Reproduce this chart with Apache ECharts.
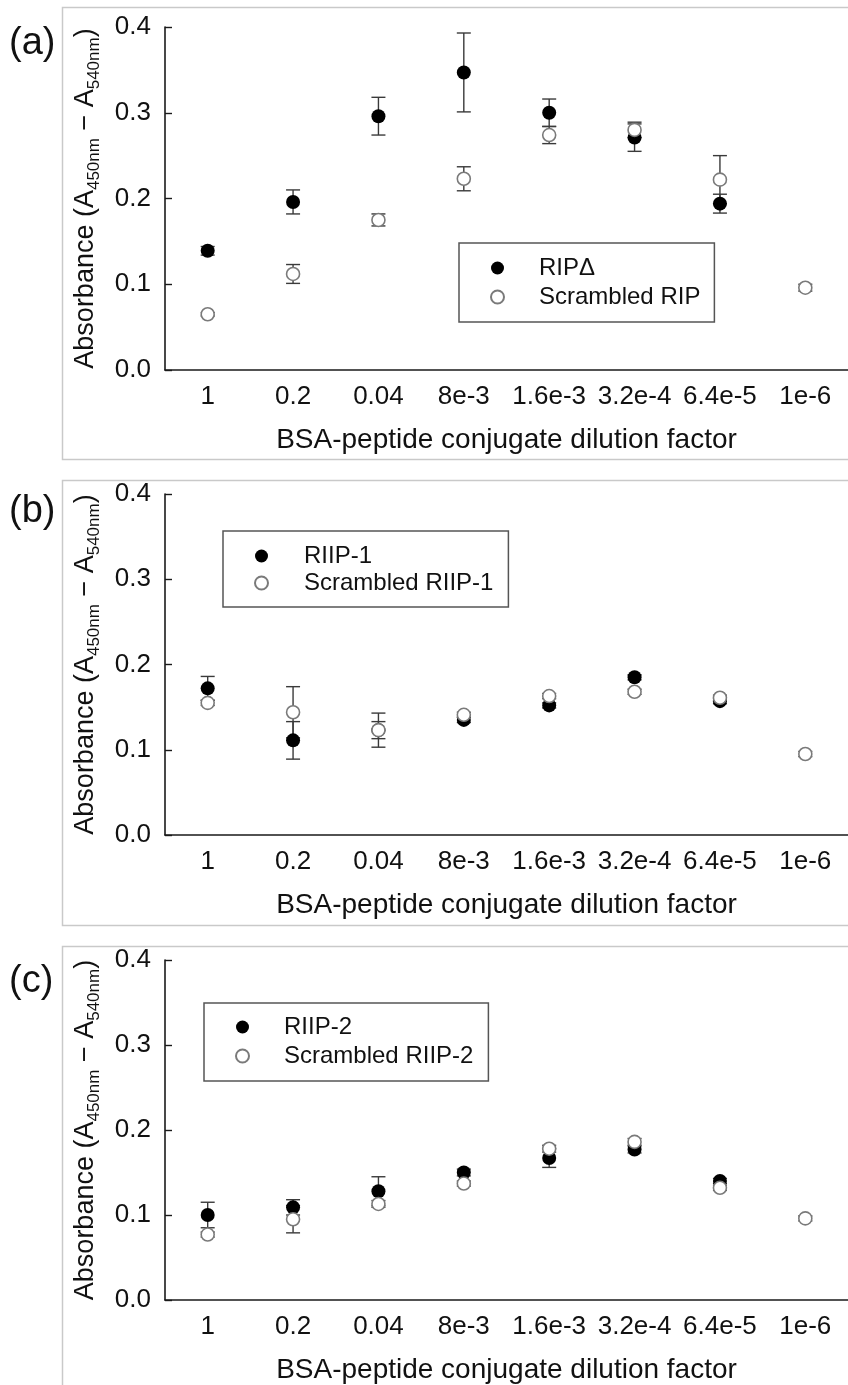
<!DOCTYPE html>
<html>
<head>
<meta charset="utf-8">
<script src="https://cdn.jsdelivr.net/npm/echarts@6/dist/echarts.min.js"></script>
<style>
  html, body { margin: 0; padding: 0; background: #ffffff; }
  #chart { width: 848px; height: 1385px; }
</style>
</head>
<body>
<div id="chart"></div>
<script>
// Dilution series of the BSA-peptide conjugate (category axis)
const dilutionLabels = ['1', '0.2', '0.04', '8e-3', '1.6e-3', '3.2e-4', '6.4e-5', '1e-6'];
const yTickValues = [0.0, 0.1, 0.2, 0.3, 0.4];

// (a) RIPΔ vs scrambled RIP — mean absorbance and error
const ripDelta      = [0.139, 0.196, 0.296, 0.347, 0.300, 0.271, 0.194, null];
const ripDeltaErr   = [0.005, 0.014, 0.022, 0.046, 0.016, 0.016, 0.011, null];
const scrRip        = [0.065, 0.112, 0.175, 0.223, 0.274, 0.280, 0.222, 0.096];
const scrRipErr     = [0.002, 0.011, 0.007, 0.014, 0.010, 0.009, 0.028, 0.004];

// (b) RIIP-1 vs scrambled RIIP-1
const riip1         = [0.172, 0.111, 0.123, 0.135, 0.152, 0.185, 0.157, null];
const riip1Err      = [0.014, 0.022, 0.010, 0.003, 0.003, 0.003, 0.003, null];
const scrRiip1      = [0.155, 0.144, 0.123, 0.141, 0.163, 0.168, 0.161, 0.095];
const scrRiip1Err   = [0.003, 0.030, 0.020, 0.003, 0.003, 0.003, 0.003, 0.003];

// (c) RIIP-2 vs scrambled RIIP-2
const riip2         = [0.100, 0.109, 0.128, 0.150, 0.167, 0.177, 0.140, null];
const riip2Err      = [0.015, 0.009, 0.017, 0.004, 0.011, 0.004, 0.003, null];
const scrRiip2      = [0.077, 0.095, 0.113, 0.137, 0.178, 0.186, 0.132, 0.096];
const scrRiip2Err   = [0.003, 0.016, 0.004, 0.003, 0.004, 0.004, 0.003, 0.003];

const panels = [
  { tag: '(a)', names: ['RIPΔ', 'Scrambled RIP'], filled: ripDelta, filledErr: ripDeltaErr, open: scrRip, openErr: scrRipErr },
  { tag: '(b)', names: ['RIIP-1', 'Scrambled RIIP-1'], filled: riip1, filledErr: riip1Err, open: scrRiip1, openErr: scrRiip1Err },
  { tag: '(c)', names: ['RIIP-2', 'Scrambled RIIP-2'], filled: riip2, filledErr: riip2Err, open: scrRiip2, openErr: scrRiip2Err }
];

const FONT = '"Liberation Sans", Arial, Helvetica, sans-serif';
const TEXT = '#111111';
const AXIS = '#1a1a1a';

// Page layout for the three stacked panels
const layout = [
  { gridTop: 27,  gridHeight: 343, frameTop: 5,   frameHeight: 452, tagY: 46,
    legend: { left: 459, top: 243, itemGap: 5, padding: [13, 14, 13, 31], textPad: 30 } },
  { gridTop: 494, gridHeight: 341, frameTop: 478, frameHeight: 445, tagY: 514,
    legend: { left: 223, top: 531, itemGap: 3, padding: [13, 15, 12, 31], textPad: 31 } },
  { gridTop: 960, gridHeight: 343, frameTop: 944, frameHeight: 470, tagY: 984,
    legend: { left: 204, top: 1003, itemGap: 5, padding: [12, 15, 13, 31], textPad: 30 } }
];

function errorBars(axisIdx, values, errors) {
  const data = [];
  values.forEach((v, i) => {
    if (v != null && errors[i] != null) data.push([i, v - errors[i], v + errors[i]]);
  });
  return {
    type: 'custom',
    xAxisIndex: axisIdx,
    yAxisIndex: axisIdx,
    silent: true,
    z: 1,
    encode: { x: 0, y: [1, 2] },
    data: data,
    renderItem: function (params, api) {
      const i = api.value(0);
      const lo = api.coord([i, api.value(1)]);
      const hi = api.coord([i, api.value(2)]);
      const hw = 7;
      const style = { stroke: '#3a3a3a', lineWidth: 1.4, fill: null };
      return {
        type: 'group',
        children: [
          { type: 'line', shape: { x1: lo[0], y1: lo[1], x2: hi[0], y2: hi[1] }, style: style },
          { type: 'line', shape: { x1: lo[0] - hw, y1: lo[1], x2: lo[0] + hw, y2: lo[1] }, style: style },
          { type: 'line', shape: { x1: hi[0] - hw, y1: hi[1], x2: hi[0] + hw, y2: hi[1] }, style: style }
        ]
      };
    }
  };
}

const grids = [], xAxes = [], yAxes = [], series = [], legends = [], graphics = [];

panels.forEach((p, k) => {
  const L = layout[k];

  grids.push({ left: 165, width: 686, top: L.gridTop, height: L.gridHeight });

  xAxes.push({
    type: 'category',
    gridIndex: k,
    data: dilutionLabels,
    boundaryGap: true,
    name: 'BSA-peptide conjugate dilution factor',
    nameLocation: 'middle',
    nameGap: 56,
    nameTextStyle: { fontFamily: FONT, fontSize: 28, color: TEXT },
    axisLine: { lineStyle: { color: AXIS, width: 1.6 } },
    axisTick: { inside: true, alignWithLabel: true, length: 7, lineStyle: { color: AXIS, width: 1.4 } },
    axisLabel: { margin: 14, fontFamily: FONT, fontSize: 26, color: TEXT, interval: 0 },
    splitLine: { show: false }
  });

  yAxes.push({
    type: 'value',
    gridIndex: k,
    min: yTickValues[0],
    max: yTickValues[yTickValues.length - 1],
    interval: 0.1,
    name: '{m|Absorbance (A}{s|450nm}{m| − A}{s|540nm}{m|)}',
    nameLocation: 'middle',
    nameRotate: 90,
    nameGap: 62,
    nameTextStyle: {
      rich: {
        m: { fontFamily: FONT, fontSize: 27, color: TEXT, lineHeight: 34, verticalAlign: 'middle' },
        s: { fontFamily: FONT, fontSize: 17, color: TEXT, lineHeight: 17, verticalAlign: 'bottom' }
      }
    },
    axisLine: { show: true, lineStyle: { color: AXIS, width: 1.6 } },
    axisTick: { show: true, inside: true, length: 7, lineStyle: { color: AXIS, width: 1.4 } },
    axisLabel: { margin: 14, fontFamily: FONT, fontSize: 26, color: TEXT, formatter: v => v.toFixed(1) },
    splitLine: { show: false }
  });

  series.push(errorBars(k, p.filled, p.filledErr));
  series.push(errorBars(k, p.open, p.openErr));

  series.push({
    type: 'scatter',
    name: p.names[0],
    xAxisIndex: k,
    yAxisIndex: k,
    z: 3,
    symbol: 'circle',
    symbolSize: 14,
    itemStyle: { color: '#000000', opacity: 1 },
    emphasis: { disabled: true },
    data: p.filled
  });
  series.push({
    type: 'scatter',
    name: p.names[1],
    xAxisIndex: k,
    yAxisIndex: k,
    z: 4,
    symbol: 'circle',
    symbolSize: 13,
    itemStyle: { color: '#ffffff', borderColor: '#7a7a7a', borderWidth: 1.6, opacity: 1 },
    emphasis: { disabled: true },
    data: p.open
  });

  legends.push({
    data: p.names,
    orient: 'vertical',
    left: L.legend.left,
    top: L.legend.top,
    padding: L.legend.padding,
    itemGap: L.legend.itemGap,
    itemWidth: 13,
    itemHeight: 13,
    icon: 'circle',
    borderColor: '#555555',
    borderWidth: 1.5,
    selectedMode: false,
    textStyle: { fontFamily: FONT, fontSize: 24, color: TEXT, lineHeight: 24, padding: [0, 0, 0, L.legend.textPad] }
  });

  // light frame around each panel
  graphics.push({
    type: 'rect',
    left: 60, top: L.frameTop,
    shape: { width: 800, height: L.frameHeight },
    style: { fill: null, stroke: '#c9c9c9', lineWidth: 1.5 },
    z: -1, silent: true
  });
  graphics.push({
    type: 'text',
    left: 9, top: L.tagY - 21,
    style: { text: p.tag, fontFamily: FONT, fontSize: 38, fill: TEXT },
    silent: true
  });
});

const chart = echarts.init(document.getElementById('chart'), null, { renderer: 'canvas' });
chart.setOption({
  backgroundColor: '#ffffff',
  animation: false,
  grid: grids,
  xAxis: xAxes,
  yAxis: yAxes,
  legend: legends,
  graphic: graphics,
  series: series
});
</script>
</body>
</html>
